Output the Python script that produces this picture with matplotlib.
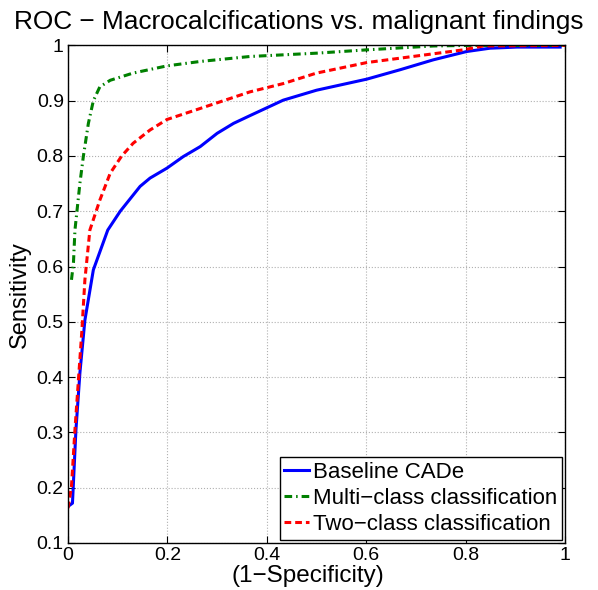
import matplotlib
matplotlib.use("Agg")
import matplotlib.pyplot as plt
import numpy as np

plt.rcParams['font.family'] = ['Liberation Sans', 'DejaVu Sans']

# ROC curves (x = 1-specificity, y = sensitivity)
base_x = [0.0, 0.009, 0.016, 0.024, 0.034, 0.051, 0.08, 0.105, 0.145, 0.165, 0.199, 0.232,
          0.266, 0.3, 0.333, 0.366, 0.433, 0.5, 0.601, 0.668, 0.735, 0.802, 0.849, 0.903, 0.99]
base_y = [0.166, 0.172, 0.305, 0.408, 0.503, 0.594, 0.666, 0.70, 0.745, 0.76, 0.778, 0.799,
          0.817, 0.841, 0.859, 0.873, 0.901, 0.919, 0.939, 0.956, 0.974, 0.989, 0.995, 0.997, 0.997]

multi_x = [0.007, 0.011, 0.014, 0.018, 0.024, 0.031, 0.041, 0.051, 0.064, 0.085, 0.131,
           0.199, 0.266, 0.366, 0.5, 0.601, 0.735, 0.8, 1.0]
multi_y = [0.576, 0.607, 0.666, 0.70, 0.751, 0.80, 0.859, 0.90, 0.925, 0.937, 0.950,
           0.963, 0.971, 0.980, 0.986, 0.992, 0.999, 1.0, 1.0]

two_x = [0.0, 0.007, 0.014, 0.021, 0.028, 0.034, 0.044, 0.064, 0.085, 0.108, 0.131, 0.165,
         0.199, 0.266, 0.366, 0.433, 0.5, 0.601, 0.702, 0.795, 0.835, 1.0]
two_y = [0.163, 0.202, 0.305, 0.395, 0.485, 0.576, 0.666, 0.72, 0.769, 0.80, 0.823, 0.847,
         0.866, 0.886, 0.916, 0.931, 0.95, 0.969, 0.981, 0.992, 0.999, 1.0]

x_ticks = [0, 0.2, 0.4, 0.6, 0.8, 1]
x_labels = ['0', '0.2', '0.4', '0.6', '0.8', '1']
y_ticks = [0.1, 0.2, 0.3, 0.4, 0.5, 0.6, 0.7, 0.8, 0.9, 1]
y_labels = ['0.1', '0.2', '0.3', '0.4', '0.5', '0.6', '0.7', '0.8', '0.9', '1']

fig = plt.figure(figsize=(5.98, 5.90), dpi=100)
ax = fig.add_axes([0.1137, 0.0797, 0.8313, 0.8433])

ax.plot(base_x, base_y, color='#0000ff', lw=2.2, label='Baseline CADe')
ax.plot(multi_x, multi_y, color='#008000', lw=2.2, linestyle='-.', dashes=(2.5, 1.3, 0.5, 1.3),
        label='Multi\u2212class classification')
ax.plot(two_x, two_y, color='#ff0000', lw=2.2, linestyle='--', dashes=(2.2, 1.3),
        label='Two\u2212class classification')

ax.set_xlim(0, 1)
ax.set_ylim(0.1, 1)
ax.set_xticks(x_ticks)
ax.set_xticklabels(x_labels)
ax.set_yticks(y_ticks)
ax.set_yticklabels(y_labels)
ax.tick_params(direction='in', top=True, right=True, labelsize=14, length=5, width=0.8, pad=3)
ax.grid(True, linestyle=':', color='#b0b0b0', lw=0.8)
for s in ax.spines.values():
    s.set_linewidth(1.0)

ax.set_xlabel('(1\u2212Specificity)', fontsize=17.5, labelpad=0)
ax.xaxis.set_label_coords(0.483, -0.045, transform=ax.transAxes)
ax.xaxis.label.set_va('top')
ax.set_ylabel('Sensitivity', fontsize=17, labelpad=4)

# title is centred on the figure, not on the axes
fig.text(0.5, 1 - 29 / 590, 'ROC \u2212 Macrocalcifications vs. malignant findings',
         fontsize=18.9, ha='center', va='baseline')

leg = ax.legend(loc='lower right', fontsize=16, fancybox=False, framealpha=1,
                edgecolor='black', handlelength=1.1, handletextpad=0.2,
                borderpad=0.2, labelspacing=0.24, borderaxespad=0.15)
leg.get_frame().set_linewidth(1.0)

fig.savefig('out.png', dpi=100)
